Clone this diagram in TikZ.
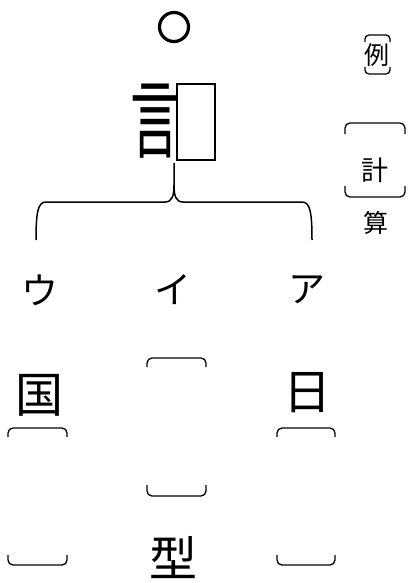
\documentclass[tikz,border=0pt]{standalone}
\usepackage{fontspec}
\newfontfamily\jp{Noto Sans CJK JP}
\begin{document}
\begin{tikzpicture}[x=1pt,y=-1pt,
  txt/.style={inner sep=0pt,font=\jp},
  brk/.style={line width=1.3pt,rounded corners=5pt},
  ln/.style={line width=1.5pt}]
\useasboundingbox (0,0) rectangle (407,583);
% top circle
\node[draw,circle,line width=3.2pt,minimum size=29pt,inner sep=0pt] (circ) at (174,27) {};
% gen glyph and box
\node[txt,font=\jp\fontsize{86}{86}\selectfont,xscale=0.58] (gen) at (155,121) {言};
\node[draw,line width=1.3pt,minimum width=38pt,minimum height=76pt,inner sep=0pt] (box) at (196,122) {};
% brace
\coordinate (btop) at (174,163);
\coordinate (bl) at (36,240);
\coordinate (br) at (312,240);
\draw[ln] (bl) .. controls (36,212) and (38,202) .. (46,202) -- (165,202)
  .. controls (172,202) and (174,196) .. (174,185) -- (btop);
\draw[ln] (br) .. controls (312,212) and (310,202) .. (302,202) -- (183,202)
  .. controls (176,202) and (174,196) .. (174,185);
% katakana
\node[txt,font=\jp\fontsize{37}{37}\selectfont] (u) at (40,290) {ウ};
\node[txt,font=\jp\fontsize{37}{37}\selectfont] (i) at (173,290) {イ};
\node[txt,font=\jp\fontsize{37}{37}\selectfont] (a) at (307,290) {ア};
% right column
\node[txt,font=\jp\fontsize{25}{25}\selectfont] (rei) at (377,55) {例};
\draw[brk,rounded corners=4pt] (365,42) -- (365,35) -- (390,35) -- (390,42);
\draw[brk,rounded corners=4pt] (365,67) -- (365,74) -- (390,74) -- (390,67);
\node[txt,font=\jp\fontsize{27}{27}\selectfont] (kei) at (375,170) {計};
\draw[brk] (345,134) -- (345,123) -- (405,123) -- (405,134);
\draw[brk] (345,186) -- (345,197) -- (405,197) -- (405,186);
\node[txt,font=\jp\fontsize{25}{25}\selectfont] (san) at (376,223) {算};
% bottom
\node[txt,font=\jp\fontsize{48}{48}\selectfont] (koku) at (40,395) {国};
\node[txt,font=\jp\fontsize{48}{48}\selectfont] (nichi) at (307,393) {日};
\node[txt,font=\jp\fontsize{48}{48}\selectfont] (kata) at (173,558) {型};
\draw[brk] (8,437) -- (8,428) -- (67,428) -- (67,437);
\draw[brk] (8,555) -- (8,565) -- (67,565) -- (67,555);
\draw[brk] (147,367) -- (147,358) -- (206,358) -- (206,367);
\draw[brk] (147,485) -- (147,496) -- (206,496) -- (206,485);
\draw[brk] (277,437) -- (277,428) -- (335,428) -- (335,437);
\draw[brk] (277,555) -- (277,565) -- (335,565) -- (335,555);
\end{tikzpicture}
\end{document}
